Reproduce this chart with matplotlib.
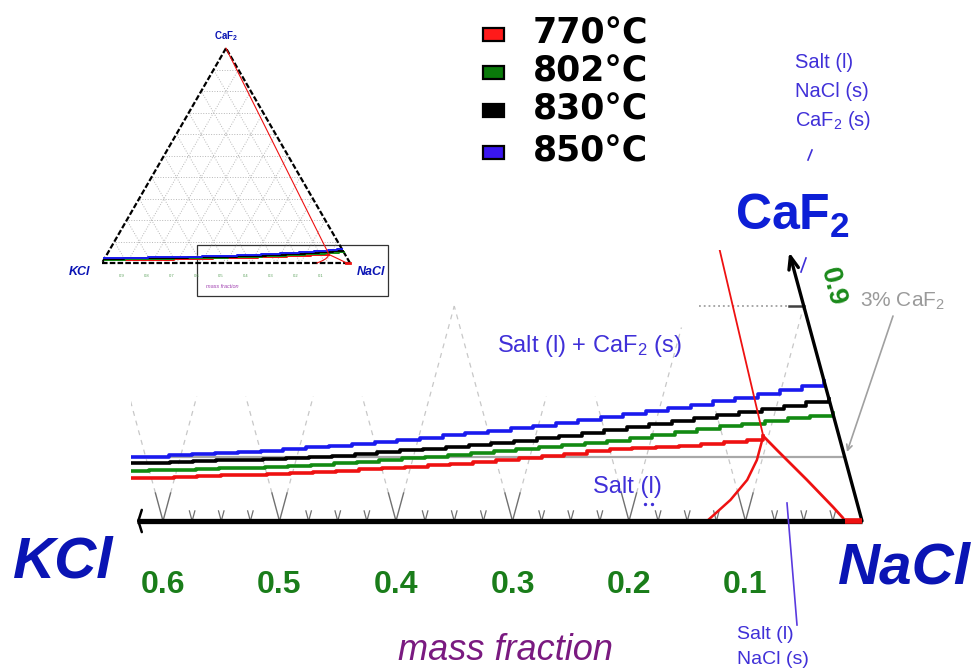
import numpy as np
import matplotlib
matplotlib.use('Agg')
import matplotlib.pyplot as plt
from matplotlib.patches import Rectangle

plt.rcParams['font.family'] = ['Liberation Sans', 'DejaVu Sans']
plt.rcParams['mathtext.fontset'] = 'custom'
plt.rcParams['mathtext.rm'] = 'Liberation Sans'
plt.rcParams['mathtext.it'] = 'Liberation Sans:italic'
plt.rcParams['mathtext.bf'] = 'Liberation Sans:bold'

# CaF2 liquidus isotherms (mass fractions KCl / CaF2)
temps = ['770°C', '802°C', '830°C', '850°C']
kcl_iso = [0.98, 0.90, 0.80, 0.70, 0.64, 0.62, 0.60, 0.58, 0.56, 0.54, 0.52, 0.50,
           0.48, 0.46, 0.44, 0.42, 0.40, 0.38, 0.36, 0.34, 0.32, 0.30, 0.28, 0.26,
           0.24, 0.22, 0.20, 0.18, 0.16, 0.14, 0.12, 0.10, 0.08, 0.06, 0.04, 0.02, 0.00]
caf2_850 = [0.022, 0.024, 0.026, 0.028, 0.0291, 0.0296, 0.0300, 0.0305, 0.0310, 0.0315, 0.0320, 0.0326,
            0.0334, 0.0342, 0.0351, 0.0360, 0.0369, 0.0378, 0.0388, 0.0398, 0.0409, 0.0420, 0.0432, 0.0444,
            0.0457, 0.0470, 0.0484, 0.0497, 0.0511, 0.0525, 0.0541, 0.0557, 0.0574, 0.0592, 0.0611, 0.0630, 0.0650]
caf2_830 = [0.019, 0.021, 0.023, 0.025, 0.0264, 0.0268, 0.0271, 0.0275, 0.0279, 0.0283, 0.0286, 0.0290,
            0.0293, 0.0297, 0.0304, 0.0312, 0.0321, 0.0330, 0.0337, 0.0345, 0.0354, 0.0363, 0.0373, 0.0384,
            0.0397, 0.0410, 0.0423, 0.0437, 0.0451, 0.0465, 0.0480, 0.0494, 0.0508, 0.0522, 0.0537, 0.0553, 0.0567]
caf2_802 = [0.016, 0.018, 0.020, 0.0218, 0.0229, 0.0232, 0.0235, 0.0238, 0.0241, 0.0245, 0.0248, 0.0252,
            0.0257, 0.0262, 0.0269, 0.0276, 0.0284, 0.0292, 0.0300, 0.0308, 0.0316, 0.0324, 0.0333, 0.0342,
            0.0352, 0.0362, 0.0373, 0.0385, 0.0398, 0.0412, 0.0426, 0.0440, 0.0452, 0.0465, 0.0477, 0.0490, 0.0502]
kcl_770 = [0.98, 0.90, 0.80, 0.70, 0.64, 0.62, 0.60, 0.58, 0.56, 0.54, 0.52, 0.50,
           0.48, 0.46, 0.44, 0.42, 0.40, 0.38, 0.36, 0.34, 0.32, 0.30, 0.28, 0.26,
           0.24, 0.22, 0.20, 0.18, 0.16, 0.14, 0.12, 0.10, 0.08, 0.065]
caf2_770 = [0.012, 0.014, 0.016, 0.018, 0.0194, 0.0198, 0.0201, 0.0205, 0.0208, 0.0212, 0.0215, 0.0218,
            0.0222, 0.0226, 0.0233, 0.0240, 0.0246, 0.0252, 0.0259, 0.0266, 0.0274, 0.0282, 0.0292, 0.0302,
            0.0313, 0.0325, 0.0333, 0.0340, 0.0345, 0.0350, 0.0358, 0.0366, 0.0378, 0.0395]

# 770°C: NaCl liquidus branches and line to the CaF2 corner
kcl_770_left = [0.065, 0.076, 0.089, 0.108, 0.133]
caf2_770_left = [0.0395, 0.0284, 0.0191, 0.0098, 0.0]
kcl_770_right = [0.065, 0.0565, 0.0377, 0.0216, 0.0156, 0.015]
caf2_770_right = [0.0395, 0.033, 0.0191, 0.0065, 0.0014, 0.0]
kcl_770_top = [0.065, 0.0]
caf2_770_top = [0.0395, 1.0]
kcl_770_base = [0.015, 0.0]

caf2_level = 0.03           # 3% CaF2 line
caf2_tick = 0.10            # NaCl 0.9 on the NaCl-CaF2 edge
major_ticks = [0.6, 0.5, 0.4, 0.3, 0.2, 0.1]
tick_labels = ['0.6', '0.5', '0.4', '0.3', '0.2', '0.1']
minor_ticks = [k / 40 for k in range(1, 25) if k % 4 != 0]
grid_top_upleft = [0.058, 0.058, 0.058, 0.10, 0.058, 0.058]
grid_top_upright = [0.058, 0.058, 0.10, 0.058, 0.09, 0.10]

iso_colors = ['#ee1111', '#128a12', 'black', '#1a1aee']
legend_colors = ['#ff1a1a', '#0a7a0a', 'black', '#3a16f0']
blue_lab = '#0a14b4'
purple_lab = '#4030d8'


def main_xy(kcl, caf2):
    kcl = np.asarray(kcl, float)
    caf2 = np.asarray(caf2, float)
    return kcl + 0.5 * caf2, caf2


def inset_xy(kcl, caf2):
    kcl = np.asarray(kcl, float)
    caf2 = np.asarray(caf2, float)
    nacl = 1 - kcl - caf2
    return nacl + 0.5 * caf2, caf2 * np.sqrt(3) / 2


W, H = 976, 670
fig = plt.figure(figsize=(W / 100, H / 100), dpi=100)

# ---- main zoomed view near the NaCl corner ----
ax = fig.add_axes([131 / W, 1 - 530 / H, (W - 131) / W, 280 / H])
ax.set_xlim((862 - 131) / 1165, (862 - W) / 1165)
ax.set_ylim(-9 / 2150, 271 / 2150)
ax.axis('off')

# dashed grid lines rising from the major ticks
for k, tl, tr in zip(major_ticks, grid_top_upleft, grid_top_upright):
    c = np.array([0.013, tl])
    x, y = main_xy([k, k], c)
    ax.plot(x, y, ls=(0, (4, 4)), color='#c8c8c8', lw=0.9, zorder=1)
    c = np.array([0.013, tr])
    x, y = main_xy(k - c, c)
    ax.plot(x, y, ls=(0, (4, 4)), color='#c8c8c8', lw=0.9, zorder=1)

# V-shaped ticks on the KCl-NaCl edge
for k in major_ticks:
    for kk, cc in [([k, k], [0, 0.013]), ([k, k - 0.013], [0, 0.013])]:
        x, y = main_xy(kk, cc)
        ax.plot(x, y, color='#707070', lw=1.0, zorder=2)
for k in minor_ticks:
    for kk, cc in [([k, k], [0, 0.0047]), ([k, k - 0.0047], [0, 0.0047])]:
        x, y = main_xy(kk, cc)
        ax.plot(x, y, color='#707070', lw=0.9, zorder=2)

# 0.9 grid line on the edge
x, y = main_xy([0.09, 0.013], [caf2_tick, caf2_tick])
ax.plot(x, y, ls=':', color='#a0a0a0', lw=1.3, zorder=2)
x, y = main_xy([0.013, 0.0], [caf2_tick, caf2_tick])
ax.plot(x, y, color='#404040', lw=1.8, zorder=2)

# 3% CaF2 line
x, y = main_xy([0.62, 0.0], [caf2_level, caf2_level])
ax.plot(x, y, color='#a8a8a8', lw=1.6, zorder=3)

# isotherms
for kc, cf, col in [(kcl_770, caf2_770, iso_colors[0]), (kcl_iso, caf2_802, iso_colors[1]),
                    (kcl_iso, caf2_830, iso_colors[2]), (kcl_iso, caf2_850, iso_colors[3])]:
    x, y = main_xy(kc, cf)
    ax.plot(x, y, drawstyle='steps-post', color=col, lw=2.6, zorder=4)

x, y = main_xy(kcl_770_left, caf2_770_left)
ax.plot(x, y, color=iso_colors[0], lw=1.8, zorder=5)
x, y = main_xy(kcl_770_right, caf2_770_right)
ax.plot(x, y, color=iso_colors[0], lw=2.0, zorder=5)
x, y = main_xy(kcl_770_top, caf2_770_top)
ax.plot(x, y, color=iso_colors[0], lw=1.3, zorder=5)

# triangle edges
x, y = main_xy([0.0, 0.6223], [0, 0])
ax.plot(x, y, color='black', lw=3.8, solid_capstyle='butt', zorder=6)
ax.annotate('', xy=(x[1], 0), xytext=(x[1] - 0.02, 0),
            arrowprops=dict(arrowstyle='->,head_length=0.25,head_width=0.8',
                            lw=1.8, color='black', shrinkA=0, shrinkB=0), zorder=6)
x, y = main_xy(kcl_770_base, [0, 0])
ax.plot(x, y, color=iso_colors[0], lw=4.0, solid_capstyle='butt', zorder=7)
x, y = main_xy([0.0, 0.0], [0.0, 0.125])
ax.annotate('', xy=(x[1], y[1]), xytext=(x[0], y[0]),
            arrowprops=dict(arrowstyle='->,head_length=0.9,head_width=0.35',
                            lw=2.4, color='black', shrinkA=0, shrinkB=0), zorder=6)

# tick labels along the KCl axis
for k, lab in zip(major_ticks, tick_labels):
    ax.text(k, -72 / 2150, lab, ha='center', va='baseline', fontsize=23,
            weight='bold', color='#1a7d1a')

# ---- overview ternary diagram ----
ins = fig.add_axes([60 / W, 1 - 305 / H, 340 / W, 285 / H])
ins.set_xlim(-42 / 248, 298 / 248)
ins.set_ylim(-42 / 248, 243 / 248)
ins.axis('off')
ins.patch.set_alpha(0)

for v in np.arange(0.1, 1.0, 0.1):
    for kk, cc in [([0, 1 - v], [v, v]), ([v, v], [0, 1 - v]), ([1 - v, 0], [0, 1 - v])]:
        x, y = inset_xy(kk, cc)
        ins.plot(x, y, ls=':', color='#b8b8b8', lw=0.7)
for kk, cc in [([1, 0], [0, 0]), ([0, 0], [0, 1]), ([0, 1], [1, 0])]:
    x, y = inset_xy(kk, cc)
    ins.plot(x, y, color='black', lw=1.6, ls=(0, (2.5, 1)))

for kc, cf, col in [(kcl_770, caf2_770, iso_colors[0]), (kcl_iso, caf2_802, iso_colors[1]),
                    (kcl_iso, caf2_830, iso_colors[2]), (kcl_iso, caf2_850, iso_colors[3])]:
    x, y = inset_xy(kc, cf)
    ins.plot(x, y, drawstyle='steps-post', color=col, lw=1.4)
for kc, cf in [(kcl_770_left, caf2_770_left), (kcl_770_right, caf2_770_right),
               (kcl_770_top, caf2_770_top)]:
    x, y = inset_xy(kc, cf)
    ins.plot(x, y, color=iso_colors[0], lw=0.8)
x, y = inset_xy(kcl_770_base, [0, 0])
ins.plot(x, y, color=iso_colors[0], lw=2)

ins.add_patch(Rectangle((95 / 248, -33 / 248), 191 / 248, 51 / 248, fill=False,
                        ec='#333333', lw=0.9))
for k in np.arange(0.1, 1.0, 0.1):
    x, y = inset_xy(k, 0)
    ins.text(x - 0.02, -0.052, f'{k:.1f}', ha='center', va='center', fontsize=3,
             color='#5aa05a')
ins.text(-0.09, -0.036, 'KCl', ha='center', va='center', fontsize=9, weight='bold',
         style='italic', color=blue_lab)
ins.text(1.085, -0.036, 'NaCl', ha='center', va='center', fontsize=9, weight='bold',
         style='italic', color=blue_lab)
ins.text(0.5, 0.915, r'$\mathbf{CaF_2}$', ha='center', va='center', fontsize=7,
         color=blue_lab)
ins.text(0.485, -0.093, 'mass fraction', ha='center', va='center', fontsize=4,
         style='italic', color='#a040b0')

# ---- labels and legend (pixel coordinates) ----
ov = fig.add_axes([0, 0, 1, 1], zorder=3)
ov.set_xlim(0, W)
ov.set_ylim(H, 0)
ov.axis('off')
ov.patch.set_alpha(0)

ov.text(13, 577, 'KCl', ha='left', va='baseline', fontsize=42, weight='bold',
        style='italic', color=blue_lab)
ov.text(838, 584, 'NaCl', ha='left', va='baseline', fontsize=42, weight='bold',
        style='italic', color=blue_lab)
ov.text(735, 230, r'$\mathbf{CaF_2}$', ha='left', va='baseline', fontsize=36, color='#0d1fd6')
ov.text(505, 660, 'mass fraction', ha='center', va='baseline', fontsize=26,
        style='italic', color='#7a1a80')

ov.text(833, 287, '0.9', ha='center', va='center', fontsize=20, weight='bold',
        rotation=-75.4, color='#1a8a1a')
ov.text(860, 307, '3% CaF$_2$', ha='left', va='baseline', fontsize=15, color='#9a9a9a')
ov.annotate('', xy=(847, 452), xytext=(893, 316),
            arrowprops=dict(arrowstyle='->', color='#a0a0a0', lw=1.2, shrinkA=0, shrinkB=0))

ov.text(497, 352, 'Salt (l) + CaF$_2$ (s)', ha='left', va='baseline', fontsize=17,
        color=purple_lab)
ov.text(593, 493, 'Salt (l)', ha='left', va='baseline', fontsize=17, color=purple_lab)
ov.plot([645, 652], [504, 504], 'o', ms=1.4, color=purple_lab)

for line, yb in zip(['Salt (l)', 'NaCl (s)', 'CaF$_2$ (s)'], [68, 97, 126]):
    ov.text(795, yb, line, ha='left', va='baseline', fontsize=14.5, color=purple_lab)
ov.plot([808, 812], [160, 150], color=purple_lab, lw=1.2)
ov.plot([801, 806], [272, 258], color=purple_lab, lw=1.2)

ov.plot([787, 797], [503, 625], color='#5a3adf', lw=1.2)
for line, yb in zip(['Salt (l)', 'NaCl (s)'], [639, 664]):
    ov.text(737, yb, line, ha='left', va='baseline', fontsize=14, color=purple_lab)

for t, col, yc in zip(temps, legend_colors, [34, 72, 110, 152]):
    ov.add_patch(Rectangle((483, yc - 6.5), 21, 13, fc=col, ec='black', lw=1.6))
    ov.text(533, yc + 10, t, ha='left', va='baseline', fontsize=25,
            family=['DejaVu Sans'], weight='bold', color='black')

fig.savefig('out.png', dpi=100)
